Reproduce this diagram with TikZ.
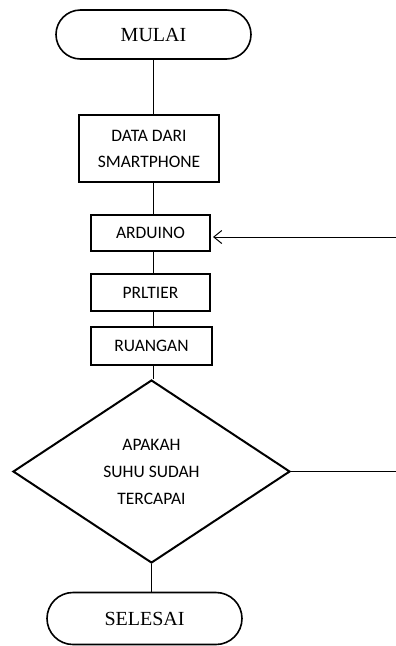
\documentclass[tikz,border=0pt]{standalone}
\usepackage{fontspec}
\setmainfont{Liberation Serif}
\newfontfamily\boxfont{Carlito}
\usetikzlibrary{shapes,arrows.meta,positioning,calc}

\begin{document}
\begin{tikzpicture}[x=1pt, y=-1pt,
    terminal/.style={rounded rectangle, draw, line width=1.6pt, minimum width=195pt, minimum height=49pt, inner sep=0pt, font=\fontsize{20}{24}\selectfont},
    process/.style={rectangle, draw, line width=2pt, inner sep=0pt, align=center, font=\boxfont\fontsize{17.5}{26}\selectfont},
    decision/.style={diamond, draw, line width=2pt, inner sep=0pt, aspect=1.51, minimum width=277pt, minimum height=183pt, align=center, font=\boxfont\fontsize{17.5}{27}\selectfont},
    line/.style={line width=1pt}]
    % Canvas
    \useasboundingbox (0,0) rectangle (396,646);

    % Start and end
    \node[terminal] (mulai) at (153.5,34.5) {MULAI};
    \node[terminal, minimum height=52pt] (selesai) at (144.5,618.5) {SELESAI};

    % Process steps
    \node[process, minimum width=140pt, minimum height=67pt] (data) at (149,148.5) {DATA DARI\\SMARTPHONE};
    \node[process, minimum width=119pt, minimum height=36pt] (arduino) at (150.5,233) {ARDUINO};
    \node[process, minimum width=119pt, minimum height=37pt] (peltier) at (150.5,292.5) {PRLTIER};
    \node[process, minimum width=121pt, minimum height=38pt] (ruangan) at (151.5,346) {RUANGAN};

    % Decision
    \node[decision] (cek) at (151.5,471.5) {APAKAH\\SUHU SUDAH\\TERCAPAI};

    % Connectors
    \coordinate (axis) at (153,0);
    \draw[line] (mulai.south -| axis) -- (data.north -| axis);
    \draw[line] (data.south -| axis) -- (arduino.north -| axis);
    \draw[line] (arduino.south -| axis) -- (peltier.north -| axis);
    \draw[line] (peltier.south -| axis) -- (ruangan.north -| axis);
    \draw[line] (ruangan.south -| axis) -- (cek.north -| axis);
    \draw[line] (cek.south) -- (selesai.north -| cek.south);

    % Loop back
    \coordinate (balikA) at (396,237);
    \coordinate (balikB) at (396,473);
    \draw[line] (cek.east) -- (cek.east -| balikB);
    \draw[line, -{Straight Barb[length=8pt, width=13pt, line width=1pt]}] (balikA) -- ([xshift=2pt]arduino.east |- balikA);
\end{tikzpicture}
\end{document}
